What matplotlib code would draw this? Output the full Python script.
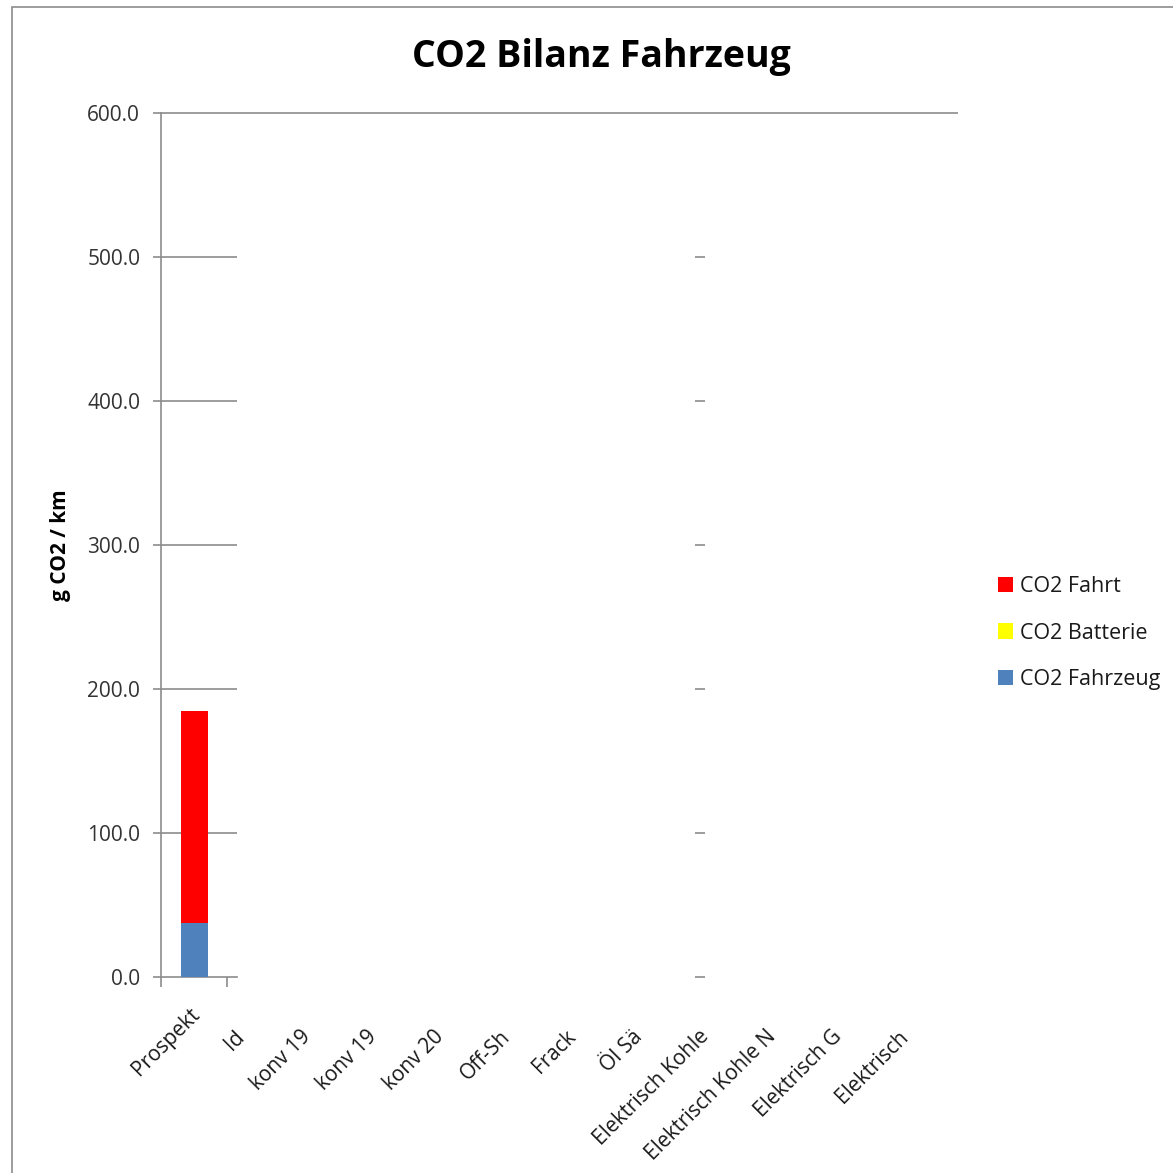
import numpy as np
import matplotlib
matplotlib.use('Agg')
import matplotlib.pyplot as plt
import matplotlib.transforms as mtrans
from matplotlib.patches import Rectangle

#- chart data
categories = ['Prospekt', 'Id', 'konv 19', 'konv 19', 'konv 20', 'Off-Sh', 'Frack',
              'Öl Sä', 'Elektrisch Kohle', 'Elektrisch Kohle N', 'Elektrisch G', 'Elektrisch']
co2_fahrzeug = [37.5, 0, 0, 0, 0, 0, 0, 0, 0, 0, 0, 0]
co2_batterie = [0, 0, 0, 0, 0, 0, 0, 0, 0, 0, 0, 0]
co2_fahrt = [147.5, 0, 0, 0, 0, 0, 0, 0, 0, 0, 0, 0]
y_ticks = [0, 100, 200, 300, 400, 500, 600]

plt.rcParams['font.family'] = ['Open Sans', 'DejaVu Sans']
W = 1173.0
fig = plt.figure(figsize=(11.73, 11.73), dpi=100)
ax = fig.add_axes([161 / W, 1 - 977 / W, (958 - 161) / W, (977 - 113) / W])

grey = '#8c8c8c'
x = np.arange(len(categories))
bw = 0.41
b1 = ax.bar(x, co2_fahrzeug, bw, color='#4F81BD', label='CO2 Fahrzeug', zorder=3)
b2 = ax.bar(x, co2_batterie, bw, bottom=co2_fahrzeug, color='#FFFF00', label='CO2 Batterie', zorder=3)
bottom2 = np.array(co2_fahrzeug) + np.array(co2_batterie)
b3 = ax.bar(x, co2_fahrt, bw, bottom=bottom2, color='#FF0000', label='CO2 Fahrt', zorder=3)

ax.set_xlim(-0.5, len(categories) - 0.5)
ax.set_ylim(0, 600)

#- broken gridlines, as in the reference rendering
for yv in y_ticks[:-1]:
    if yv > 0:
        ax.hlines(yv, -0.5, 0.645, color=grey, lw=1.2, zorder=1)
    ax.hlines(yv, 7.54, 7.69, color=grey, lw=1.2, zorder=1, clip_on=False)
ax.hlines(600, -0.5, len(categories) - 0.5, color=grey, lw=1.2, zorder=1, clip_on=False)

for s in ['top', 'right']:
    ax.spines[s].set_visible(False)
ax.spines['left'].set_color(grey)
ax.spines['left'].set_linewidth(1.2)
ax.spines['bottom'].set_color(grey)
ax.spines['bottom'].set_linewidth(1.2)
ax.spines['bottom'].set_bounds(-0.5, 0.645)

ax.set_yticks(y_ticks)
ax.set_yticklabels(['%.1f' % v for v in y_ticks], fontsize=15, color='#333333')
ax.tick_params(axis='y', length=6, width=1.2, color=grey, pad=9)

ax.set_xticks([-0.5, 0.5])
ax.set_xticklabels([])
ax.tick_params(axis='x', which='major', length=7, width=1.2, color=grey)
ax.set_xticks(x, minor=True)
ax.set_xticklabels(categories, minor=True, rotation=45, ha='right', va='top',
                   rotation_mode='anchor', fontsize=15, color='#1a1a1a')
ax.tick_params(axis='x', which='minor', length=0, pad=16)
for i, lab in enumerate(ax.get_xticklabels(minor=True)):
    dx = -0.05 if i == 0 else -0.27
    lab.set_transform(lab.get_transform() +
                      mtrans.ScaledTranslation(dx, dx, fig.dpi_scale_trans))

ax.set_ylabel('g CO2 / km', fontsize=15, fontweight='bold')
ax.yaxis.set_label_coords(-90 / 797, 0.5)

fig.text(601 / W, 1 - 57 / W, 'CO2 Bilanz Fahrzeug', ha='center', va='center',
         fontsize=27, fontweight='bold')

leg = fig.legend(handles=[b3, b2, b1], loc='center left',
                 bbox_to_anchor=(987 / W, 1 - 633 / W), frameon=False, fontsize=15.5,
                 handlelength=0.7, handleheight=0.7, handletextpad=0.35,
                 labelspacing=1.2, borderpad=0)
for t in leg.get_texts():
    t.set_color('#1a1a1a')

#- outer chart border
fig.patches.append(Rectangle((12 / W, -0.1), 1.2, 1.1 - 7 / W, transform=fig.transFigure,
                             fill=False, edgecolor=grey, lw=1.2))

fig.savefig('out.png', dpi=100)
